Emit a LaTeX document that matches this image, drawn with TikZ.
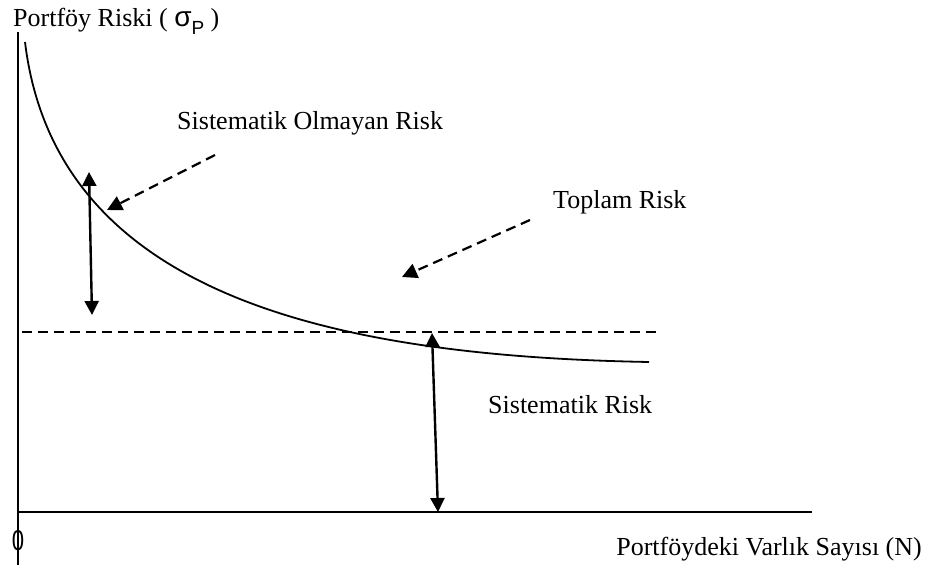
\documentclass[tikz,border=0pt]{standalone}
\usepackage{fontspec}
\setmainfont{Liberation Serif}
\newfontfamily\sansfnt{Liberation Sans}
\usetikzlibrary{arrows.meta}
\begin{document}
\begin{tikzpicture}[x=1pt,y=-1pt,
  lbl/.style={inner sep=0pt,font=\fontsize{26}{30}\selectfont},
  axisline/.style={line width=1.8pt},
  curveline/.style={line width=1.8pt},
  dblarrow/.style={line width=2.4pt,{Triangle[length=14pt,width=14pt]}-{Triangle[length=14pt,width=14pt]}},
  dasharrow/.style={line width=2.2pt,dash pattern=on 10pt off 6pt,-{Triangle[length=15pt,width=15pt]}},
  dashline/.style={line width=1.8pt,dash pattern=on 10pt off 6pt}]
\useasboundingbox (0,0) rectangle (933,569);
% axes
\coordinate (ytop) at (18,32);
\coordinate (ybot) at (18,565);
\coordinate (xl) at (18,512);
\coordinate (xr) at (812,512);
\draw[axisline] (ytop) -- (ybot);
\draw[axisline] (xl) -- (xr);
% curve
\coordinate (cs) at (25,42);
\coordinate (ce) at (649,362);
\draw[curveline] (cs) .. controls (55,290) and (320,356) .. (ce);
% dashed horizontal
\coordinate (dl) at (22,332);
\coordinate (dr) at (661,332);
\draw[dashline] (dl) -- (dr);
% double arrows
\coordinate (a1t) at (89,172);
\coordinate (a1b) at (92,315);
\draw[dblarrow] (a1t) -- (a1b);
\coordinate (a2t) at (432,333);
\coordinate (a2b) at (438,512);
\draw[dblarrow] (a2t) -- (a2b);
% dashed pointer arrows
\coordinate (p1s) at (215,155);
\coordinate (p1e) at (107,210);
\draw[dasharrow] (p1s) -- (p1e);
\coordinate (p2s) at (530,220);
\coordinate (p2e) at (402,277);
\draw[dasharrow] (p2s) -- (p2e);
% labels
\node[lbl,anchor=base west] (ylab) at (13,27) {Portföy Riski ( {\sansfnt\fontsize{28}{30}\selectfont σ\raisebox{-8pt}{\fontsize{19}{20}\selectfont P}} )};
\node[lbl,anchor=base west] (nsr) at (177,130) {Sistematik Olmayan Risk};
\node[lbl,anchor=base west] (tr) at (553,208) {Toplam Risk};
\node[lbl,anchor=base west] (sr) at (488,413) {Sistematik Risk};
\node[lbl,anchor=base east] (xlab) at (922,555) {Portföydeki Varlık Sayısı (N)};
\node[lbl,anchor=base,font=\sansfnt\fontsize{26}{30}\selectfont] (zero) at (18,550) {\scalebox{0.85}[1.1]{0}};
\end{tikzpicture}
\end{document}
